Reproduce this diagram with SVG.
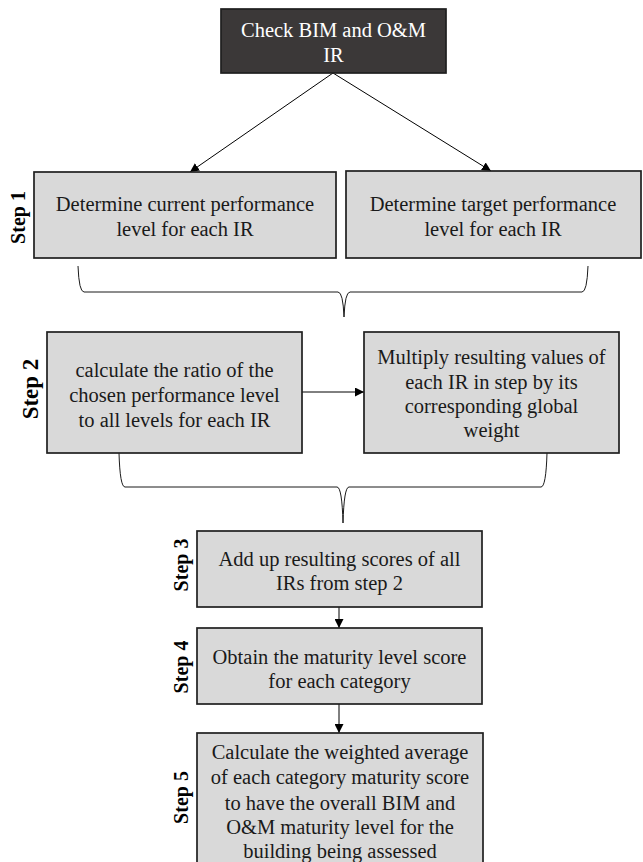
<svg xmlns="http://www.w3.org/2000/svg" width="643" height="862" viewBox="0 0 643 862">
<style>
.box{fill:#d9d9d9;stroke:#1f1f1f;stroke-width:1.7}
.dark{fill:#3b3838;stroke:#1f1f1f;stroke-width:1.7}
text{font-family:'Liberation Serif','Times New Roman',serif;font-size:20.5px;text-anchor:middle}
.t{fill:#1a1a1a}
.tw{fill:#ffffff}
.s{font-weight:bold;fill:#000;font-size:20px}
.s2{font-weight:bold;fill:#000;font-size:23px}
.c{fill:none;stroke:#000;stroke-width:1}
.br{fill:none;stroke:#1a1a1a;stroke-width:1}
</style>
<defs>
<marker id="ah" viewBox="0 0 10 10" refX="10" refY="5" markerWidth="9" markerHeight="9" markerUnits="userSpaceOnUse" orient="auto">
<path d="M0,0 L10,5 L0,10 z" fill="#000"/>
</marker>
</defs>

<g id="connectors">
<line class="c" x1="333" y1="73" x2="190" y2="172" marker-end="url(#ah)"/>
<line class="c" x1="333" y1="73" x2="491" y2="171" marker-end="url(#ah)"/>
<path class="br" d="M78,266 Q79,292 84,292 L338,292 Q343,292 344,317 Q345,292 350,292 L582,292 Q587,292 588,266"/>
<line class="c" x1="302" y1="392" x2="364" y2="392" marker-end="url(#ah)"/>
<path class="br" d="M119,453 Q120,487 125,487 L337,487 Q342,487 343,523 Q344,487 349,487 L541,487 Q546,487 547,453"/>
<line class="c" x1="339" y1="607" x2="339" y2="628" marker-end="url(#ah)"/>
<line class="c" x1="339" y1="704" x2="339" y2="733" marker-end="url(#ah)"/>
</g>

<g id="start">
<rect class="dark" x="221" y="9" width="225" height="64"/>
<text class="tw" x="333.5" y="37">Check BIM and O&amp;M</text>
<text class="tw" x="333.5" y="62">IR</text>
</g>

<g id="step1-label"><text class="s" transform="translate(25,217.5) rotate(-90)">Step 1</text></g>
<g id="current">
<rect class="box" x="34" y="172" width="302" height="86"/>
<text class="t" x="185" y="211">Determine current performance</text>
<text class="t" x="185" y="236">level for each IR</text>
</g>
<g id="target">
<rect class="box" x="346" y="171" width="295" height="87"/>
<text class="t" x="493" y="211">Determine target performance</text>
<text class="t" x="493" y="236">level for each IR</text>
</g>

<g id="step2-label"><text class="s2" transform="translate(38,389) rotate(-90)">Step 2</text></g>
<g id="ratio">
<rect class="box" x="47" y="332" width="255" height="121"/>
<text class="t" x="174.5" y="377">calculate the ratio of the</text>
<text class="t" x="174.5" y="402">chosen performance level</text>
<text class="t" x="174.5" y="427">to all levels for each IR</text>
</g>
<g id="multiply">
<rect class="box" x="364" y="332" width="255" height="121"/>
<text class="t" x="491.5" y="364">Multiply resulting values of</text>
<text class="t" x="491.5" y="389">each IR in step by its</text>
<text class="t" x="491.5" y="413">corresponding global</text>
<text class="t" x="491.5" y="437">weight</text>
</g>

<g id="step3-label"><text class="s" transform="translate(188,565) rotate(-90)">Step 3</text></g>
<g id="sum">
<rect class="box" x="197" y="531" width="285" height="76"/>
<text class="t" x="339.5" y="566">Add up resulting scores of all</text>
<text class="t" x="339.5" y="590">IRs from step 2</text>
</g>

<g id="step4-label"><text class="s" transform="translate(188,667) rotate(-90)">Step 4</text></g>
<g id="obtain">
<rect class="box" x="197" y="628" width="285" height="76"/>
<text class="t" x="339.5" y="664">Obtain the maturity level score</text>
<text class="t" x="339.5" y="688">for each category</text>
</g>

<g id="step5-label"><text class="s" transform="translate(188,797.5) rotate(-90)">Step 5</text></g>
<g id="average">
<rect class="box" x="197" y="733" width="286" height="135"/>
<text class="t" x="340" y="759">Calculate the weighted average</text>
<text class="t" x="340" y="784">of each category maturity score</text>
<text class="t" x="340" y="810">to have the overall BIM and</text>
<text class="t" x="340" y="834">O&amp;M maturity level for the</text>
<text class="t" x="340" y="858">building being assessed</text>
</g>
</svg>
